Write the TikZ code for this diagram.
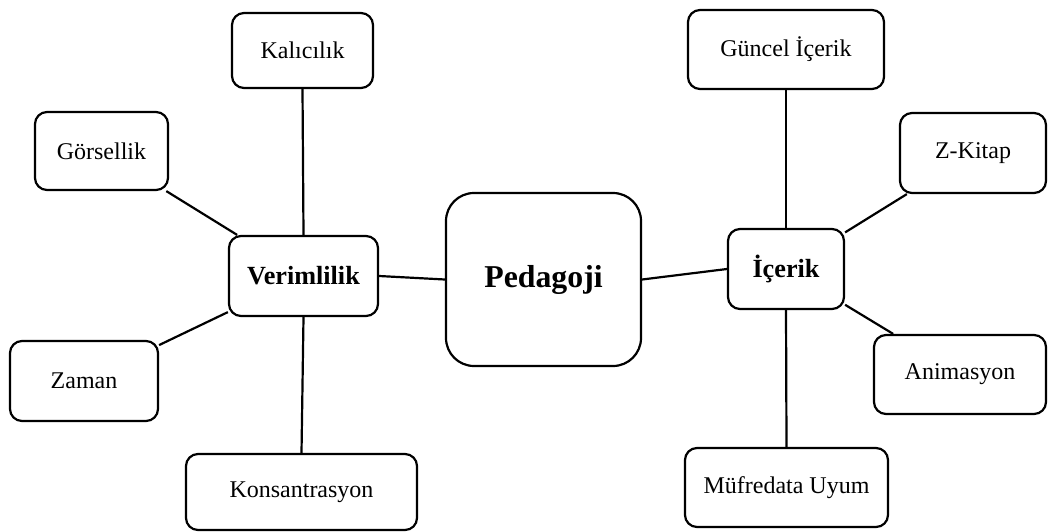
\documentclass[tikz,border=0pt]{standalone}
\usepackage{fontspec}
\setmainfont{Liberation Serif}
\begin{document}
\begin{tikzpicture}[x=1pt,y=-1pt,
  box/.style={draw=black, line width=2.2pt, rounded corners=12pt, inner sep=0pt, fill=white,
    font=\fontsize{24}{28}\selectfont},
  hub/.style={box, font=\fontsize{26.2}{31}\selectfont\bfseries},
  center/.style={box, rounded corners=28pt, font=\fontsize{31.8}{37}\selectfont\bfseries},
  link/.style={line width=2.2pt, draw=black}]
\useasboundingbox (0,0) rectangle (1048,532);
% left cluster
\node[hub, minimum width=149pt, minimum height=80pt] (v) at (303.5,276) {Verimlilik};
\node[box, minimum width=141pt, minimum height=75pt] (k) at (302.5,50.5) {Kalıcılık};
\node[box, minimum width=133pt, minimum height=78pt] (g) at (101.5,151) {Görsellik};
\node[box, minimum width=148pt, minimum height=80pt] (z) at (84,381) {Zaman};
\node[box, minimum width=231pt, minimum height=76pt] (ko) at (301.5,492) {Konsantrasyon};
% center
\node[center, minimum width=195pt, minimum height=173pt] (p) at (543.5,279.5) {Pedagoji};
% right cluster
\node[hub, minimum width=116pt, minimum height=80pt] (i) at (786,269) {İçerik};
\node[box, minimum width=196pt, minimum height=79pt] (gi) at (786,49.5) {Güncel İçerik};
\node[box, minimum width=146pt, minimum height=80pt] (zk) at (973,153) {Z-Kitap};
\node[box, minimum width=172pt, minimum height=79pt] (a) at (960,374.5) {Animasyon};
\node[box, minimum width=203pt, minimum height=79pt] (m) at (786.5,487.5) {Müfredata Uyum};
% connectors
\draw[link] (k.south) -- (v.north);
\draw[link] (g) -- (v);
\draw[link] (z) -- (v);
\draw[link] (v.south) -- (ko.north);
\draw[link] (v.east) -- (p.west);
\draw[link] (p.east) -- (i.west);
\draw[link] (gi.south) -- (i.north);
\draw[link] (zk) -- (i);
\draw[link] (a) -- (i);
\draw[link] (i.south) -- (m.north);
\end{tikzpicture}
\end{document}
